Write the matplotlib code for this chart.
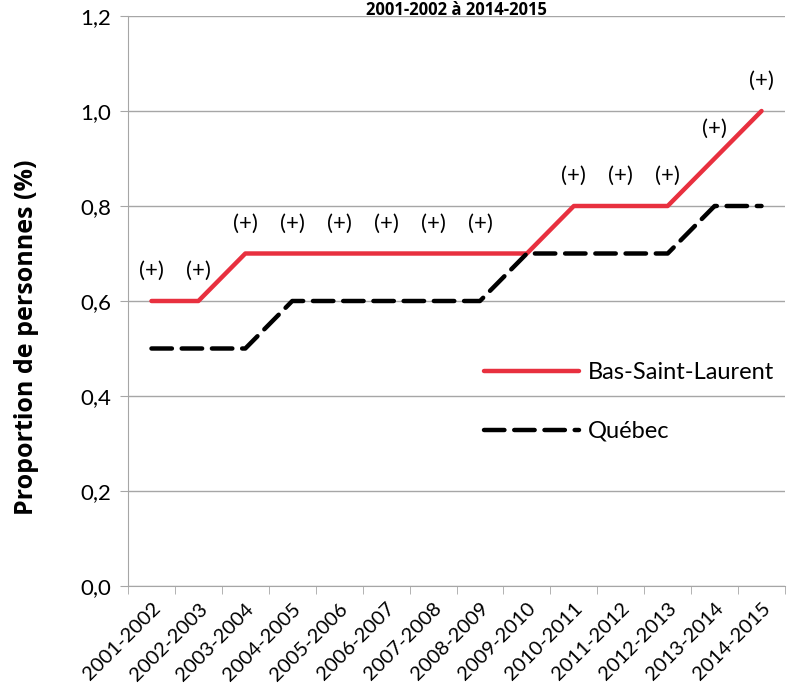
import matplotlib.pyplot as plt
from matplotlib.ticker import FixedLocator, FuncFormatter

plt.rcParams["font.family"] = ["Lato", "DejaVu Sans"]

YEARS = [
    "2001-2002", "2002-2003", "2003-2004", "2004-2005", "2005-2006",
    "2006-2007", "2007-2008", "2008-2009", "2009-2010", "2010-2011",
    "2011-2012", "2012-2013", "2013-2014", "2014-2015",
]
BSL = [0.6, 0.6, 0.7, 0.7, 0.7, 0.7, 0.7, 0.7, 0.7, 0.8, 0.8, 0.8, 0.9, 1.0]
QUEBEC = [0.5, 0.5, 0.5, 0.6, 0.6, 0.6, 0.6, 0.6, 0.7, 0.7, 0.7, 0.7, 0.8, 0.8]
SIGNIF = ["(+)", "(+)", "(+)", "(+)", "(+)", "(+)", "(+)", "(+)", "",
          "(+)", "(+)", "(+)", "(+)", "(+)"]

RED = "#E8303F"
GRID = "#A6A6A6"
BOLD_FONT = ["Open Sans", "DejaVu Sans"]

fig = plt.figure(figsize=(7.91, 6.92), dpi=100)
ax = fig.add_axes([128 / 791, 1 - 586 / 692, (785 - 128) / 791, (586 - 16) / 692])

xs = list(range(len(YEARS)))
ax.plot(xs, BSL, color=RED, linewidth=3.2, label="Bas-Saint-Laurent",
        solid_capstyle="round")
ax.plot(xs, QUEBEC, color="black", linewidth=3.2, linestyle=(0, (4.6, 2.2)),
        label="Québec", dash_capstyle="round")

for x, y, s in zip(xs, BSL, SIGNIF):
    if s:
        ax.text(x, y + 0.042, s, ha="center", va="bottom", fontsize=16)

ax.set_xlim(-0.5, len(YEARS) - 0.5)
ax.set_ylim(0, 1.2)
ax.set_yticks([0, 0.2, 0.4, 0.6, 0.8, 1.0, 1.2])
ax.yaxis.set_major_formatter(FuncFormatter(lambda v, _: f"{v:.1f}".replace(".", ",")))
ax.grid(axis="y", color=GRID, linewidth=1)
ax.set_axisbelow(True)

ax.set_xticks(xs)
ax.set_xticklabels(YEARS, rotation=45, ha="right", rotation_mode="anchor", fontsize=14.5)
ax.xaxis.set_minor_locator(FixedLocator([i - 0.5 for i in range(len(YEARS) + 1)]))
ax.tick_params(axis="x", which="major", length=0, pad=10)
ax.tick_params(axis="x", which="minor", length=6, color=GRID)
ax.tick_params(axis="y", length=6, color=GRID, labelsize=16, pad=6)

for side in ("top", "right"):
    ax.spines[side].set_visible(False)
ax.spines["left"].set_color(GRID)
ax.spines["bottom"].set_color(GRID)

ax.set_ylabel("Proportion de personnes (%)", fontsize=18, fontweight="bold",
              family=BOLD_FONT)
ax.yaxis.set_label_coords(-0.135, 0.437)

ax.legend(loc="upper left", bbox_to_anchor=(0.51, 0.43), frameon=False, fontsize=17,
          handlelength=4.0, labelspacing=1.6, handletextpad=0.4)

fig.text(0.577, 0.999, "2001-2002 à 2014-2015", ha="center", va="top",
         fontsize=12, fontweight="bold", family=BOLD_FONT)

fig.savefig("out.png", dpi=100)
